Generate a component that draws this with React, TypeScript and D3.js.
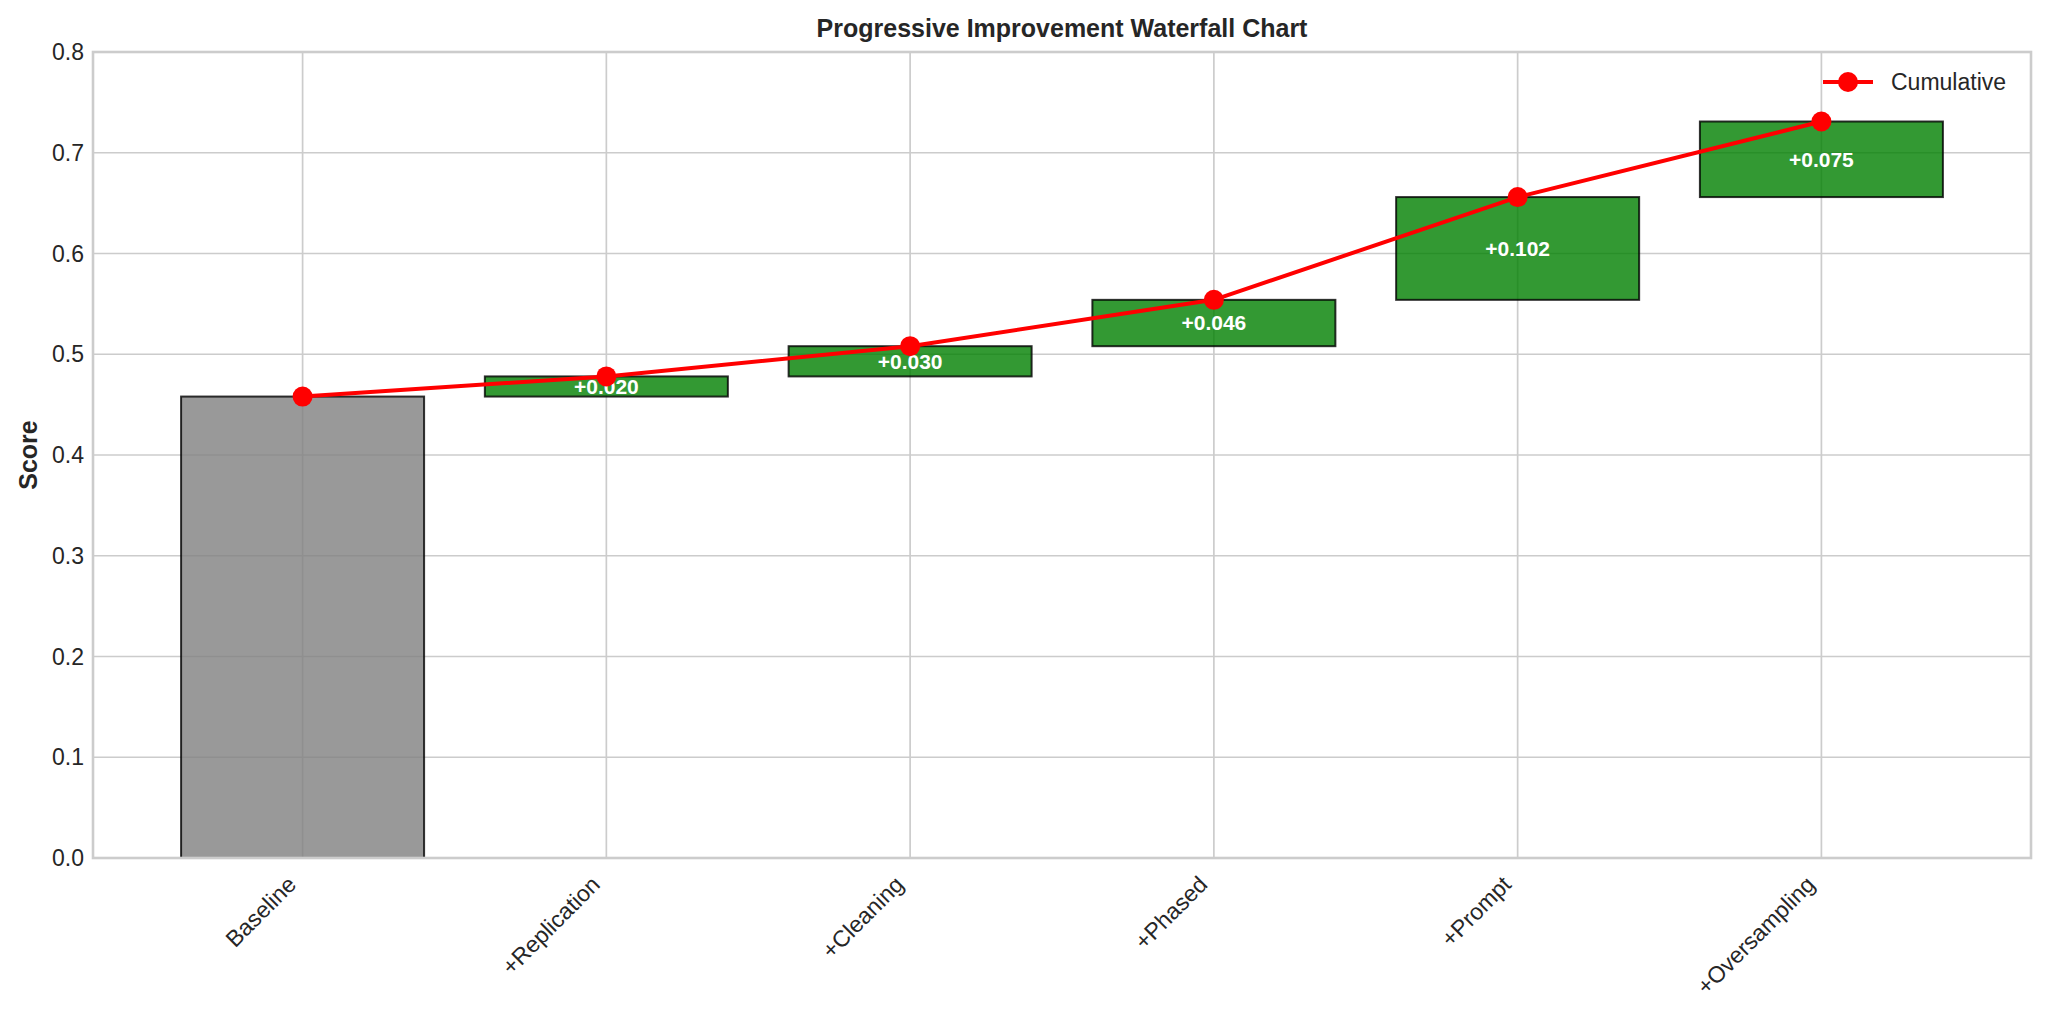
import React from 'react';
import * as d3 from 'd3';

const steps = ['Baseline', '+Replication', '+Cleaning', '+Phased', '+Prompt', '+Oversampling'];
const baseline = 0.458;
const deltas = [0.020, 0.030, 0.046, 0.102, 0.075];
const yTicks = [0, 0.1, 0.2, 0.3, 0.4, 0.5, 0.6, 0.7, 0.8];

const W = 2048;
const H = 1013;
const margin = { top: 52, right: 17, bottom: 155, left: 93 };
const FONT = '"Liberation Sans", Arial, sans-serif';
const TEXT = '#262626';
const GRID = '#cccccc';

const App: React.FC = () => {
  const x = d3.scaleLinear().domain([-0.69, steps.length - 1 + 0.69]).range([margin.left, W - margin.right]);
  const y = d3.scaleLinear().domain([0, 0.8]).range([H - margin.bottom, margin.top]);
  const barW = x(0.8) - x(0);

  // cumulative totals after each step
  const cumulative = [baseline];
  deltas.forEach(d => cumulative.push(cumulative[cumulative.length - 1] + d));

  const line = d3.line<number>()
    .x((_, i) => x(i))
    .y(d => y(d));

  const plotL = margin.left;
  const plotR = W - margin.right;
  const plotT = margin.top;
  const plotB = H - margin.bottom;

  return (
    <svg width={W} height={H} style={{ position: 'absolute', left: 0, top: 0, display: 'block', background: 'white' }} fontFamily={FONT}>
      <rect x={0} y={0} width={W} height={H} fill="white" />
      {/* grid */}
      {yTicks.map(t => (
        <line key={'gy' + t} x1={plotL} x2={plotR} y1={y(t)} y2={y(t)} stroke={GRID} strokeWidth={1.7} />
      ))}
      {steps.map((s, i) => (
        <line key={'gx' + s} x1={x(i)} x2={x(i)} y1={plotT} y2={plotB} stroke={GRID} strokeWidth={1.7} />
      ))}

      {/* baseline bar */}
      <rect x={x(0) - barW / 2} y={y(baseline)} width={barW} height={y(0) - y(baseline)}
        fill="#808080" fillOpacity={0.8} stroke="#000" strokeOpacity={0.8} strokeWidth={2} />

      {/* improvement bars */}
      {deltas.map((d, i) => {
        const bottom = cumulative[i];
        const top = cumulative[i + 1];
        return (
          <g key={'b' + i}>
            <rect x={x(i + 1) - barW / 2} y={y(top)} width={barW} height={y(bottom) - y(top)}
              fill="#008000" fillOpacity={0.8} stroke="#000" strokeOpacity={0.8} strokeWidth={2} />
            <text x={x(i + 1)} y={y(bottom + d / 2)} dy="0.35em" textAnchor="middle" fill="white"
              fontWeight="bold" fontSize={21}>{`+${d.toFixed(3)}`}</text>
          </g>
        );
      })}

      {/* cumulative line */}
      <path d={line(cumulative) || ''} fill="none" stroke="#ff0000" strokeWidth={4} />
      {cumulative.map((c, i) => (
        <circle key={'c' + i} cx={x(i)} cy={y(c)} r={10} fill="#ff0000" />
      ))}

      {/* spines */}
      <rect x={plotL} y={plotT} width={plotR - plotL} height={plotB - plotT} fill="none" stroke={GRID} strokeWidth={2.6} />

      {/* y ticks */}
      {yTicks.map(t => (
        <text key={'ty' + t} x={plotL - 9} y={y(t)} dy="0.35em" textAnchor="end" fill={TEXT} fontSize={23}>
          {t.toFixed(1)}
        </text>
      ))}

      {/* x ticks */}
      {steps.map((s, i) => {
        const tx = x(i) - 5;
        const ty = plotB + 28;
        return (
          <text key={'tx' + s} x={tx} y={ty} textAnchor="end" fill={TEXT} fontSize={23}
            transform={`rotate(-45, ${tx}, ${ty})`}>{s}</text>
        );
      })}

      {/* axis label */}
      <text transform={`translate(28, ${(plotT + plotB) / 2}) rotate(-90)`} dy="0.35em" textAnchor="middle"
        fill={TEXT} fontWeight="bold" fontSize={25}>Score</text>

      {/* title */}
      <text x={(plotL + plotR) / 2} y={plotT - 15} textAnchor="middle" fill={TEXT} fontWeight="bold" fontSize={25}>
        Progressive Improvement Waterfall Chart
      </text>

      {/* legend */}
      <g>
        <line x1={1823} x2={1873} y1={82} y2={82} stroke="#ff0000" strokeWidth={4} />
        <circle cx={1848} cy={82} r={10} fill="#ff0000" />
        <text x={1891} y={82} dy="0.35em" fill={TEXT} fontSize={23}>Cumulative</text>
      </g>
    </svg>
  );
};

export default App;
